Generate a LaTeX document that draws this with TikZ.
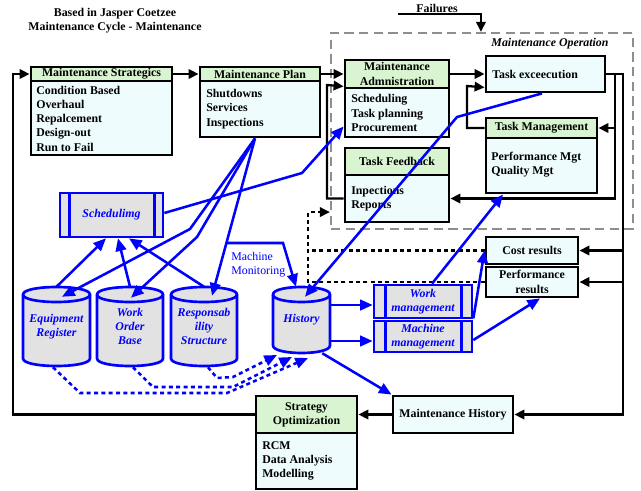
\documentclass[tikz,border=0pt]{standalone}
\usepackage{fontspec}
\setmainfont{Liberation Serif}
\usetikzlibrary{arrows.meta,calc}
\definecolor{hgreen}{HTML}{D9F4D0}
\definecolor{bcyan}{HTML}{EEFCFE}
\definecolor{cgray}{HTML}{E2E2E2}
\definecolor{dgray}{HTML}{8E8E8E}
\definecolor{pblue}{HTML}{0000FF}
\newcommand\fs{\fontsize{8.9}{10.7}\selectfont}
\newcommand\bx[7]{\node[#1, minimum width={(#5-#3)*0.75pt}, minimum height={(#6-#4)*0.75pt}] (#2) at ({(#3+#5)/2},{(#4+#6)/2}) {#7};}
\newcommand\mycyl[6]{%
 \pgfmathsetmacro\cxa{#2}\pgfmathsetmacro\cxb{#3}%
 \pgfmathsetmacro\cta{#4+7.5}\pgfmathsetmacro\cba{#5-7.5}%
 \pgfmathsetmacro\ctu{#4+7.5-10}\pgfmathsetmacro\ctd{#4+7.5+10}%
 \pgfmathsetmacro\cbd{#5-7.5+10}%
 \filldraw[cylst] (\cxa,\cta) -- (\cxa,\cba) .. controls (\cxa,\cbd) and (\cxb,\cbd) .. (\cxb,\cba) -- (\cxb,\cta) .. controls (\cxb,\ctu) and (\cxa,\ctu) .. (\cxa,\cta) -- cycle;
 \draw[cylst] (\cxa,\cta) .. controls (\cxa,\ctd) and (\cxb,\ctd) .. (\cxb,\cta);
 \node[cyltxt, minimum width={(#3-#2)*0.75pt}, minimum height={(#5-#4)*0.75pt}] (#1) at ({(#2+#3)/2},{(#4+#5)/2}) {#6};%
}
\begin{document}
\begin{tikzpicture}[x=0.75pt,y=-0.75pt,
 hdr/.style={draw, line width=2.1pt, fill=hgreen, inner sep=0pt, font=\fs\bfseries, align=center},
 bdy/.style={draw, line width=2.1pt, fill=bcyan, inner sep=0pt, font=\fs\bfseries, align=center},
 txt/.style={inner sep=0pt, font=\fs\bfseries, align=left, anchor=west},
 proc/.style={draw=pblue, line width=2pt, fill=cgray, inner sep=0pt, font=\fs\bfseries\itshape, text=pblue, align=center},
 procline/.style={draw=pblue, line width=2pt},
 cylst/.style={draw=pblue, line width=2pt, fill=cgray},
 cyltxt/.style={inner sep=0pt, font=\fs\bfseries\itshape, text=pblue, align=center},
 blk/.style={line width=1.7pt, -{Triangle[length=7.5pt,width=7pt]}},
 bl/.style={draw=pblue, line width=1.9pt, -{Triangle[length=9.5pt,width=8pt]}},
 bld/.style={bl, dash pattern=on 3pt off 2.5pt},
 bkd/.style={line width=1.6pt, dash pattern=on 3pt off 2.5pt},
 opdash/.style={draw=dgray, line width=1.6pt, dash pattern=on 7pt off 4pt, inner sep=0pt}]
\useasboundingbox (0,0) rectangle (641,491);

% titles
\node[font=\fs\bfseries, align=center, inner sep=0pt] (title) at (115,20.5) {Based in Jasper Coetzee\\Maintenance Cycle - Maintenance};
\node[font=\fs\bfseries, inner sep=0pt] (fail) at (437,8) {Failures};

% operation frame
\bx{opdash}{opbox}{331}{33}{633}{229}{}
\node[font=\fs\bfseries\itshape, inner sep=0pt] (optitle) at (550,44) {Maintenance Operation};

% black boxes
\bx{hdr}{strH}{31}{67}{172}{81}{Maintenance Strategics}
\bx{bdy}{strB}{31}{81}{172}{155}{}
\node[txt] (strT) at (36,118.5) {Condition Based\\Overhaul\\Repalcement\\Design-out\\Run to Fail};

\bx{hdr}{planH}{200}{67}{320}{81}{Maintenance Plan}
\bx{bdy}{planB}{200}{81}{320}{137}{}
\node[txt] (planT) at (206,109) {Shutdowns\\Services\\Inspections};

\bx{hdr}{admH}{345}{60}{449}{88}{Maintenance\\Admnistration}
\bx{bdy}{admB}{345}{88}{449}{137}{}
\node[txt] (admT) at (351,113) {Scheduling\\Task planning\\Procurement};

\bx{bdy}{exec}{486}{56}{605}{92}{}
\node[txt] (execT) at (492,74) {Task exceecution};

\bx{hdr}{tmH}{486}{118}{597}{138}{Task Management}
\bx{bdy}{tmB}{486}{138}{597}{193}{}
\node[txt] (tmT) at (491,165) {Performance Mgt\\Quality Mgt};

\bx{hdr}{tfH}{345}{148}{449}{175}{Task Feedback}
\bx{bdy}{tfB}{345}{175}{449}{222}{}
\node[txt] (tfT) at (351,198.5) {Inpections\\Reports};

\bx{bdy}{cost}{486}{237}{578}{264}{Cost results}
\bx{bdy}{perf}{486}{267}{578}{297}{Performance\\results}

\bx{bdy}{mh}{393}{396}{513}{433}{Maintenance History}
\bx{hdr}{soH}{256}{396}{357}{433}{Strategy\\Optimization}
\bx{bdy}{soB}{256}{433}{357}{489}{}
\node[txt] (soT) at (262,461) {RCM\\Data Analysis\\Modelling};

% blue process boxes
\bx{proc}{sched}{60}{193}{163}{237}{Schedulimg}
\draw[procline] ($(sched.north west)+(11,0)$) -- ($(sched.south west)+(11,0)$);
\draw[procline] ($(sched.north east)+(-10,0)$) -- ($(sched.south east)+(-10,0)$);
\bx{proc}{wm}{374}{285}{472}{318}{Work\\management}
\draw[procline] ($(wm.north west)+(13,0)$) -- ($(wm.south west)+(13,0)$);
\draw[procline] ($(wm.north east)+(-12,0)$) -- ($(wm.south east)+(-12,0)$);
\bx{proc}{mm}{374}{321}{472}{352}{Machine\\management}
\draw[procline] ($(mm.north west)+(13,0)$) -- ($(mm.south west)+(13,0)$);
\draw[procline] ($(mm.north east)+(-12,0)$) -- ($(mm.south east)+(-12,0)$);

% cylinders
\mycyl{er}{23}{90}{287}{366}{Equipment\\Register}
\mycyl{wob}{97}{163}{287}{366}{Work\\Order\\Base}
\mycyl{rs}{171}{237}{287}{366}{Responsab\\ility\\Structure}
\mycyl{hist}{273}{330}{287}{353}{History}

% black connectors
\draw[blk] (strH.east) -- (planH.west);
\draw[blk] (planH.east) -- (admH.west);
\draw[blk] (admH.east) -- (exec.west);
\draw[blk] (soH.west) -| (13,74) -- (strH.west);
\draw[blk] (mh.west) -- (soH.east);
\draw[blk] (exec.east) -- (623,74) |- (mh.east);
\draw[blk] (615,74) |- (tfB.east);
\draw[blk] (615,128) -- (tmH.east);
\draw[blk] (623,250.5) -- (cost.east);
\draw[blk] (623,282) -- (perf.east);
\draw[blk] (tfB.west) -| (327,85) -- ($(admH.south west)+(0,-3)$);
\draw[blk] (tmH.west) -| (467,86) -- ($(exec.south west)+(0,-6)$);
\draw[blk] ($(fail.west)+(-18,6)$) -| ($(opbox.north west)+(151,0)$);

% black dashed
\draw[bkd] (cost.west) -- (308,250.5);
\draw[bkd, -{Triangle[length=7.5pt,width=7pt]}] (perf.west) -- (308,282) |- ($(opbox.south west)+(0,-18)$);

% blue connectors
\coordinate (po) at ($(planB.south)+(-5,0)$);
\draw[bl] (po) -- (190,229) -- ($(er.north)+(5.5,10)$);
\draw[bl] (po) -- (197,237) -- ($(wob.north)+(1,11)$);
\draw[bl] (po) -- ($(rs.north)+(8,9)$);
\draw[bl] (227,243) -- (283,243) -- ($(hist.north)+(-5.5,0)$);
\node[inner sep=0pt, font=\fs, text=pblue, align=left, anchor=west] (mmon) at (231,265) {Machine\\Monitoring};
\draw[bl] (er.north) -- ($(sched.south)+(-5.5,0)$);
\draw[bl] (wob.north) -- ($(sched.south)+(6.5,0)$);
\draw[bl] (rs.north) -- ($(sched.south)+(17.5,0)$);
\draw[bl] ($(sched.east)+(0,-2)$) -- (302,173) -- ($(admB.west)+(0,14)$);
\draw[bl] ($(exec.south)+(-3.5,0)$) -- (457,117) -- ($(hist.north)+(3.5,10)$);
\draw[bl] ($(wm.north)+(9,0)$) -- ($(tmB.south)+(-38.5,0)$);
\draw[bl] ($(wm.south east)+(0,-1)$) -- (cost.west);
\draw[bl] ($(mm.east)+(0,3.5)$) -- ($(perf.south)+(8,0)$);
\draw[bl] (hist.east |- 0,305) -- (wm.west |- 0,305);
\draw[bl] (hist.east |- 0,341) -- (mm.west |- 0,341);
\draw[bl] ($(hist.south east)+(-8,0)$) -- (mh.north west);

% blue dashed
\draw[bld] ($(rs.south)+(4,1)$) -- (217,378) -- (233,377) -- (277,355);
\draw[bld] ($(wob.south)+(3,1)$) -- (153,387) -- (233,387) -- (292,357);
\draw[bld] ($(er.south)+(-3.5,1)$) -- (80,393) -- (227,393) -- (308,358);
\end{tikzpicture}
\end{document}
